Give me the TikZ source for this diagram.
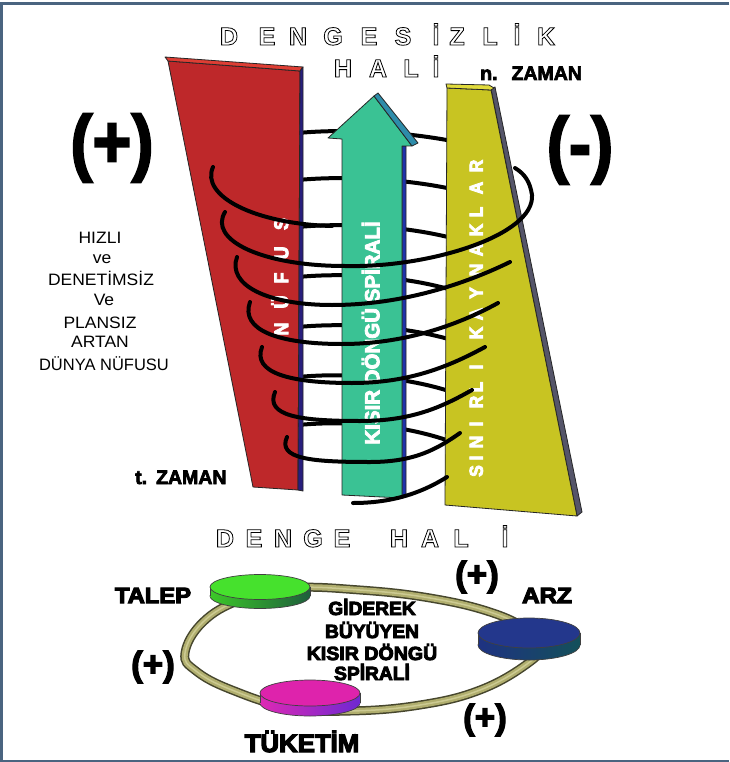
\documentclass[tikz,border=0pt]{standalone}
\usepackage{fontspec}
\setmainfont{Liberation Sans}
\definecolor{slabred}{RGB}{190,40,42}
\definecolor{slabredtop}{RGB}{222,62,52}
\definecolor{navyside}{RGB}{40,30,125}
\definecolor{arrowgreen}{RGB}{58,194,148}
\definecolor{arrowteal}{RGB}{45,140,170}
\definecolor{arrowside}{RGB}{30,50,170}
\definecolor{slabyellow}{RGB}{200,196,34}
\definecolor{slabyellowtop}{RGB}{224,218,60}
\definecolor{grayside}{RGB}{85,85,105}
\definecolor{framecol}{RGB}{74,100,128}
\definecolor{ringdark}{RGB}{70,70,45}
\definecolor{ringfill}{RGB}{176,174,110}
\definecolor{ringlight}{RGB}{204,202,146}
\definecolor{dgreen}{RGB}{70,225,45}
\definecolor{dgreenA}{RGB}{60,200,40}
\definecolor{dgreenB}{RGB}{30,95,60}
\definecolor{dnavy}{RGB}{35,55,140}
\definecolor{dnavyA}{RGB}{30,50,130}
\definecolor{dnavyB}{RGB}{20,80,90}
\definecolor{dmag}{RGB}{222,35,172}
\definecolor{dmagA}{RGB}{222,40,180}
\definecolor{dmagB}{RGB}{110,40,210}
\newcommand\outlined[1]{\special{pdf:literal direct 1 Tr 0.8 w}#1\special{pdf:literal direct 0 Tr 0.3985 w}}
\newcommand\hv[2]{\special{pdf:literal direct 2 Tr #1 w}#2\special{pdf:literal direct 0 Tr 0.3985 w}}
\newcommand\mydisc[8]{%
  \shade[left color=#7, right color=#8] (#1,#2+#5) ellipse[x radius=#3pt, y radius=#4pt];
  \draw[black!75, line width=0.7pt] (#1,#2+#5) ellipse[x radius=#3pt, y radius=#4pt];
  \shade[left color=#7, right color=#8] (#1-#3,#2) rectangle (#1+#3,#2+#5);
  \draw[black!75, line width=0.7pt] (#1-#3,#2) -- (#1-#3,#2+#5) (#1+#3,#2) -- (#1+#3,#2+#5);
  \filldraw[fill=#6, draw=black!75, line width=0.7pt] (#1,#2) ellipse[x radius=#3pt, y radius=#4pt];
}
\begin{document}
\begin{tikzpicture}[x=1pt,y=-1pt,
  face/.style={draw=black!85, line width=0.8pt, line join=round},
  coil/.style={line width=4pt, black, line cap=round},
  outl/.style={font=\bfseries\fontsize{25}{25}\selectfont, text=black, inner sep=0pt, anchor=base},
  vlet/.style={rotate=90, text=white, font=\bfseries\fontsize{17.5}{17.5}\selectfont, inner sep=0pt, text height=13.5pt, text depth=0pt},
  nlet/.style={vlet, font=\bfseries\fontsize{18}{18}\selectfont, text height=14.3pt},
  lt/.style={anchor=base, inner sep=0pt, font=\fontsize{16.5}{16.5}\selectfont},
  zam/.style={anchor=base west, inner sep=0pt, font=\bfseries\fontsize{19.5}{19.5}\selectfont},
  bigpar/.style={inner sep=0pt, font=\bfseries\fontsize{74}{74}\selectfont},
  smallpar/.style={inner sep=0pt, font=\bfseries\fontsize{35}{35}\selectfont},
  lbl/.style={anchor=base, inner sep=0pt, font=\bfseries\fontsize{22}{22}\selectfont},
  ctext/.style={anchor=base, inner sep=0pt, font=\bfseries\fontsize{19}{19}\selectfont}
]
\useasboundingbox (0,0) rectangle (729,762);
\fill[white] (0,0) rectangle (729,762);
\draw[framecol, line width=3pt] (729,4) -- (1.5,4) -- (1.5,761) -- (729,761);

% titles
\foreach \ch/\xx [count=\n] in {D/229,E/267,N/298,G/333,E/369,S/403,İ/436,Z/457,L/490,İ/517,K/546}
  \node[outl] (ta\n) at (\xx,45) {\outlined{\ch}};
\foreach \ch/\xx [count=\n] in {H/343,A/378,L/411,İ/436}
  \node[outl] (tb\n) at (\xx,77) {\outlined{\ch}};
\foreach \ch/\xx [count=\n] in {D/225,E/254,N/283,G/313,E/342,H/399,A/430,L/461,İ/505}
  \node[outl] (tc\n) at (\xx,547) {\outlined{\ch}};

\node[zam] (nz) at (480,80) {\hv{0.7}{n.\hspace{14pt}ZAMAN}};
\node[zam] (tz) at (135,484) {\hv{0.7}{t.\hspace{9pt}ZAMAN}};

% back coil arcs
\foreach \ya/\yb in {133/141,180/189,227/238,277/290,327/340,377/392,425/442}
  \draw[coil] (298,\ya) .. controls (340,\ya-4) and (400,\ya-2) .. (452,\yb);

% red slab
\filldraw[face, fill=slabred] (168,61) -- (300,71) -- (298,490) -- (253,487) -- cycle;
\filldraw[face, fill=slabredtop] (165,57) -- (303,67) -- (300,71) -- (168,61) -- cycle;
\filldraw[face, fill=navyside] (300,71) -- (303,67) -- (303,491) -- (298,490) -- cycle;

% arrow
\filldraw[face, fill=arrowside] (402,146) -- (406,146) -- (406,497) -- (402,498) -- cycle;
\filldraw[face, fill=arrowgreen] (342,495) -- (342,139) -- (328,138) -- (374,96) -- (412,146) -- (402,146) -- (402,498) -- cycle;
\filldraw[face, fill=arrowteal] (374,96) -- (378,93) -- (418,143) -- (412,146) -- cycle;

% yellow slab
\filldraw[face, fill=grayside] (491,89) -- (495,87) -- (582,512) -- (577,516) -- cycle;
\filldraw[face, fill=slabyellow] (447,88) -- (491,90) -- (577,516) -- (445,505) -- cycle;
\filldraw[face, fill=slabyellowtop] (446,84) -- (489,85) -- (494,88) -- (491,90) -- (447,88) -- cycle;

% slab texts
\foreach \ch/\yy [count=\n] in {N/329,Ü/302,F/278,U/253,S/224}
  \node[nlet] (nf\n) at (281,\yy) {\scalebox{1}[1.1]{\hv{0.8}{\ch}}};
\foreach \ch/\yy [count=\n] in {S/471,I/458,N/442,I/424,R/402,L/387,I/367,K/333,A/314,Y/293,N/270,A/250,K/230,L/212,A/188,R/166}
  \node[vlet] (sk\n) at (476,\yy) {\scalebox{1}[1.08]{\hv{0.8}{\ch}}};
\node[rotate=90, text=white, font=\bfseries\fontsize{20.5}{20.5}\selectfont, inner sep=0pt, text height=14.7pt, text depth=0pt] (ks) at (372,333) {\hv{0.8}{KISIR DÖNGÜ SPİRALİ}};

% front coil arcs
\draw[coil] (213,167) .. controls (200,196) and (255,224) .. (332,226);
\draw[coil] (225,212) .. controls (208,240) and (262,266) .. (345,266) .. controls (430,268) and (535,235) .. (532,195) .. controls (530,182) and (525,174) .. (515,168);
\draw[coil] (237,257) .. controls (227,285) and (267,305) .. (332,305) .. controls (402,305) and (465,284) .. (510,262);
\draw[coil] (250,302) .. controls (240,330) and (278,344) .. (342,344) .. controls (405,344) and (458,325) .. (498,303);
\draw[coil] (262,347) .. controls (252,373) and (290,383) .. (352,383) .. controls (410,383) and (450,366) .. (485,347);
\draw[coil] (275,392) .. controls (265,416) and (300,421) .. (360,421) .. controls (412,421) and (442,407) .. (472,390);
\draw[coil] (287,437) .. controls (277,459) and (312,462) .. (370,462) .. controls (415,462) and (437,449) .. (460,433);
\draw[coil] (447,477) .. controls (420,494) and (390,503) .. (353,503);

% left texts
\node[bigpar] (pplus) at (112,148) {\scalebox{0.9}[1]{\hv{2}{(+)}}};
\node[bigpar] (pminus) at (580,150) {\scalebox{0.9}[1]{\hv{2}{(-)}}};
\node[lt] (l1) at (100,243) {\scalebox{1.06}[1]{HIZLI}};
\node[lt] (l2) at (102,263) {\scalebox{1.06}[1]{ve}};
\node[lt] (l3) at (101,285) {\scalebox{1.06}[1]{DENETİMSİZ}};
\node[lt] (l4) at (104,305) {\scalebox{1.06}[1]{Ve}};
\node[lt] (l5) at (100,328) {\scalebox{1.06}[1]{PLANSIZ}};
\node[lt] (l6) at (100,347) {\scalebox{1.06}[1]{ARTAN}};
\node[lt] (l7) at (104,370) {\scalebox{1.0}[1]{DÜNYA NÜFUSU}};

% bottom ring
\def\ringpts{(185,653) (203,622) (240,600) (290,588) (360,590) (430,598) (490,612) (528,630) (540,647) (527,664) (480,690) (420,705) (350,711) (290,708) (232,690) (196,671)}
\draw[ringdark, line width=9pt] plot[smooth cycle, tension=0.7] coordinates {\ringpts};
\draw[ringfill, line width=6pt] plot[smooth cycle, tension=0.7] coordinates {\ringpts};
\draw[ringlight, line width=1.5pt] plot[smooth cycle, tension=0.7] coordinates {\ringpts};

\mydisc{260}{587}{50}{12.5}{9}{dgreen}{dgreenA}{dgreenB}
\mydisc{529}{633}{51}{15}{12}{dnavy}{dnavyA}{dnavyB}
\mydisc{310}{693}{50}{13}{10}{dmag}{dmagA}{dmagB}

\node[lbl] (talep) at (153,603) {\scalebox{1.08}[1]{\hv{1.1}{TALEP}}};
\node[lbl] (arz) at (547,603) {\scalebox{1.1}[1]{\hv{1.1}{ARZ}}};
\node[lbl, font=\bfseries\fontsize{25}{25}\selectfont] (tuk) at (302,752) {\scalebox{1.03}[1]{\hv{1.2}{TÜKETİM}}};
\node[smallpar] (p1) at (477,577) {\hv{1.2}{(+)}};
\node[smallpar] (p2) at (153,667) {\hv{1.2}{(+)}};
\node[smallpar] (p3) at (485,720) {\hv{1.2}{(+)}};
\node[ctext] (c1) at (372,615) {\scalebox{1.01}[1]{\hv{0.9}{GİDEREK}}};
\node[ctext] (c2) at (372,638) {\scalebox{1.01}[1]{\hv{0.9}{BÜYÜYEN}}};
\node[ctext] (c3) at (372,660) {\scalebox{1.03}[1]{\hv{0.9}{KISIR DÖNGÜ}}};
\node[ctext] (c4) at (372,680) {\scalebox{1.01}[1]{\hv{0.9}{SPİRALİ}}};
\end{tikzpicture}
\end{document}
